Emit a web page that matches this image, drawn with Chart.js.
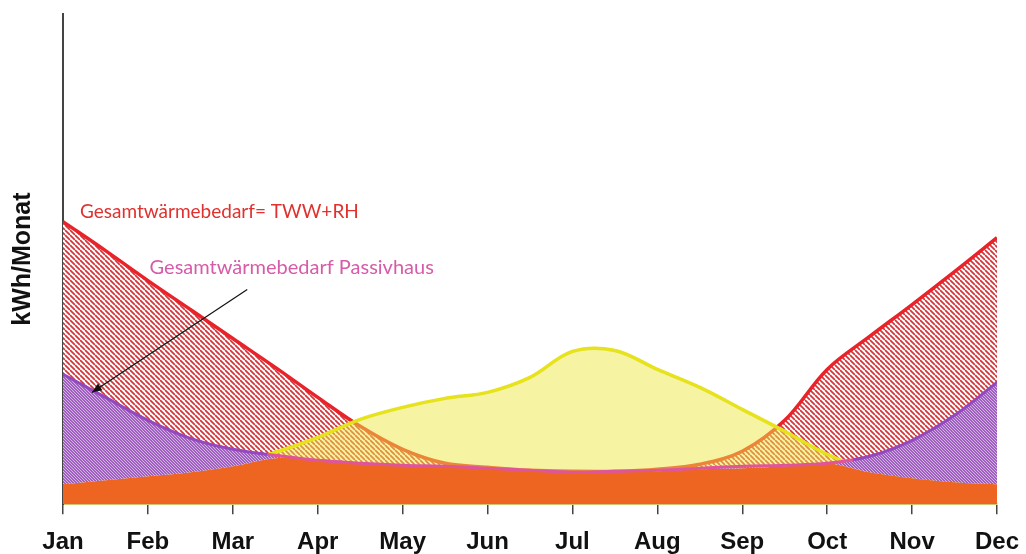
<!DOCTYPE html>
<html>
<head>
<meta charset="utf-8">
<title>Gesamtwärmebedarf</title>
<script src="https://cdn.jsdelivr.net/npm/chart.js@4.4.1/dist/chart.umd.min.js"></script>
<style>
  html, body { margin: 0; padding: 0; background: #fff; }
  #chart { display: block; }
</style>
</head>
<body>
<canvas id="chart" width="1026" height="554"></canvas>
<script>
// month names for the x axis (0 = Jan ... 11 = Dec)
const months = ['Jan', 'Feb', 'Mar', 'Apr', 'May', 'Jun', 'Jul', 'Aug', 'Sep', 'Oct', 'Nov', 'Dec'];

// sample points every half month
const xSteps = [0, 0.5, 1, 1.5, 2, 2.5, 3, 3.5, 4, 4.5, 5, 5.5, 6, 6.5, 7, 7.5, 8, 8.5, 9, 9.5, 10, 10.5, 11];

// Gesamtwärmebedarf = TWW + RH (red)
const totalDemand = [283, 254, 224, 195, 166, 137, 107, 78, 55, 41, 37, 34, 33, 33, 35, 40, 53, 84, 135, 168, 200, 233, 267];
// Gesamtwärmebedarf Passivhaus (purple / pink)
const passivDemand = [130, 107, 84, 66, 55, 49, 44, 41, 39, 38, 36, 34, 32, 33, 34, 36, 38, 39, 41, 48, 64, 89, 122];
// solar yield (yellow)
const solarYield = [22, 26, 30, 34, 40, 52, 67, 85, 97, 106, 112, 127, 153, 154, 135, 117, 95, 73, 50, 34, 26, 23, 22];
// covered part (orange)
const covered = [20, 24, 28, 32, 38, 46, 45, 42, 39, 38, 36, 34, 32, 32, 33, 35, 36, 38, 41, 32, 26, 22, 20];

// where the Passivhaus line runs above the solar curve (drawn purple there, pink elsewhere)
const purpleUntil = 2.4;
const purpleFrom = 9.3;

// text labels and the arrow, in data units
const notes = [
    { text: 'Gesamtwärmebedarf= TWW+RH', x: 0.2, y: 293, color: '#E0312E', size: 19 },
    { text: 'Gesamtwärmebedarf Passivhaus', x: 1.02, y: 237, color: '#D65BA8', size: 20 }
];
const arrowFrom = { x: 2.17, y: 215 };
const arrowTo = { x: 0.34, y: 112 };

function toPoints(values) {
    return values.map((v, i) => ({ x: xSteps[i], y: v }));
}

// diagonal "\" hatch
function hatch(fg, bg, size, lw) {
    const c = document.createElement('canvas');
    c.width = size;
    c.height = size;
    const g = c.getContext('2d');
    g.fillStyle = bg;
    g.fillRect(0, 0, size, size);
    g.strokeStyle = fg;
    g.lineWidth = lw;
    g.beginPath();
    for (let k = -1; k <= 1; k++) {
        g.moveTo(0, k * size);
        g.lineTo(size, size + k * size);
    }
    g.stroke();
    return g.createPattern(c, 'repeat');
}

const redHatch = hatch('#D3343A', '#ffffff', 5, 1.7);
const purpleHatch = hatch('#D2B2E0', '#A060C0', 3, 1);

// purple / pink colour along the Passivhaus line
function passivColor(context) {
    const chart = context.chart;
    const area = chart.chartArea;
    if (!area) return '#9448C0';
    const x = chart.scales.x;
    const g = chart.ctx.createLinearGradient(area.left, 0, area.right, 0);
    const s1 = (x.getPixelForValue(purpleUntil) - area.left) / area.width;
    const s2 = (x.getPixelForValue(purpleFrom) - area.left) / area.width;
    g.addColorStop(0, '#9448C0');
    g.addColorStop(s1, '#9448C0');
    g.addColorStop(s1 + 0.001, '#E0559A');
    g.addColorStop(s2, '#E0559A');
    g.addColorStop(s2 + 0.001, '#9448C0');
    g.addColorStop(1, '#9448C0');
    return g;
}

const notesPlugin = {
    id: 'notes',
    afterDatasetsDraw(chart) {
        const { ctx, scales: { x, y } } = chart;
        ctx.save();
        ctx.textBaseline = 'middle';
        notes.forEach(n => {
            ctx.font = n.size + 'px Lato';
            ctx.fillStyle = n.color;
            ctx.fillText(n.text, x.getPixelForValue(n.x), y.getPixelForValue(n.y));
        });
        // arrow
        const x1 = x.getPixelForValue(arrowFrom.x), y1 = y.getPixelForValue(arrowFrom.y);
        const x2 = x.getPixelForValue(arrowTo.x), y2 = y.getPixelForValue(arrowTo.y);
        ctx.strokeStyle = '#111';
        ctx.fillStyle = '#111';
        ctx.lineWidth = 1.2;
        ctx.beginPath();
        ctx.moveTo(x1, y1);
        ctx.lineTo(x2, y2);
        ctx.stroke();
        const a = Math.atan2(y2 - y1, x2 - x1);
        ctx.beginPath();
        ctx.moveTo(x2, y2);
        ctx.lineTo(x2 - 10 * Math.cos(a) + 4 * Math.sin(a), y2 - 10 * Math.sin(a) - 4 * Math.cos(a));
        ctx.lineTo(x2 - 10 * Math.cos(a) - 4 * Math.sin(a), y2 - 10 * Math.sin(a) + 4 * Math.cos(a));
        ctx.closePath();
        ctx.fill();
        ctx.restore();
    }
};

const chart = new Chart(document.getElementById('chart').getContext('2d'), {
    type: 'line',
    data: {
        datasets: [
            {
                label: 'Gesamtwärmebedarf= TWW+RH',
                data: toPoints(totalDemand),
                borderColor: '#E8232A',
                borderWidth: 3.5,
                backgroundColor: redHatch,
                fill: { target: 3 },
                order: 4
            },
            {
                label: 'Solar',
                data: toPoints(solarYield),
                borderColor: '#E6E21C',
                borderWidth: 3.5,
                backgroundColor: 'rgba(238, 232, 70, 0.5)',
                fill: { target: 2 },
                order: 3
            },
            {
                label: 'Gedeckt',
                data: toPoints(covered),
                borderColor: 'rgba(0,0,0,0)',
                borderWidth: 0,
                backgroundColor: '#EE6421',
                fill: 'origin',
                order: 2
            },
            {
                label: 'Gesamtwärmebedarf Passivhaus',
                data: toPoints(passivDemand),
                borderColor: passivColor,
                borderWidth: 3,
                backgroundColor: purpleHatch,
                fill: { target: 2 },
                order: 1
            }
        ]
    },
    options: {
        responsive: false,
        animation: false,
        events: [],
        elements: {
            point: { radius: 0 },
            line: { tension: 0.35 }
        },
        layout: { padding: { top: 14, right: 29, bottom: -17, left: 0 } },
        plugins: {
            legend: { display: false },
            tooltip: { enabled: false }
        },
        scales: {
            x: {
                type: 'linear',
                min: 0,
                max: 11,
                // labels may reach into the margin, the plot ends at the Dec tick
                afterFit: s => { s.paddingLeft = 0; s.paddingRight = 0; },
                grid: { display: true, drawOnChartArea: false, drawTicks: true, tickLength: 10, color: '#444', lineWidth: 1.5 },
                border: { display: true, color: '#CFC97A', width: 2 },
                ticks: {
                    stepSize: 1,
                    autoSkip: false,
                    maxRotation: 0,
                    padding: 14,
                    color: '#111',
                    font: { family: 'Liberation Sans, Arial, sans-serif', size: 24, weight: 'bold' },
                    callback: v => months[v]
                }
            },
            y: {
                min: 0,
                max: 491,
                grid: { display: false, drawTicks: false },
                border: { display: true, color: '#444', width: 2 },
                ticks: { display: false },
                title: {
                    display: true,
                    text: 'kWh/Monat',
                    color: '#111',
                    padding: { top: 8, bottom: 25 },
                    font: { family: 'Liberation Sans, Arial, sans-serif', size: 25, weight: 'bold' }
                }
            }
        }
    },
    plugins: [notesPlugin]
});
</script>
</body>
</html>
